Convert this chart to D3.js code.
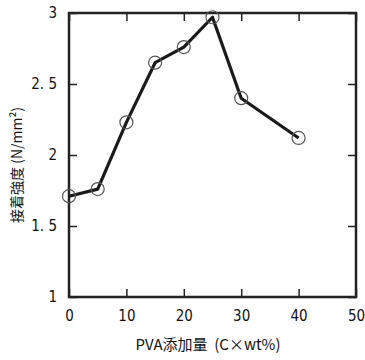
<!DOCTYPE html>
<html>
<head>
<meta charset="utf-8">
<script src="https://cdn.jsdelivr.net/npm/d3@7"></script>
<style>
  body { margin: 0; background: #fff; }
  text { font-family: "DejaVu Sans Condensed", "Liberation Sans Narrow", "Noto Sans CJK JP", sans-serif; }
</style>
</head>
<body>
<div id="chart-area"></div>
<script>
// PVA addition (C x wt%) vs bond strength (N/mm2)
var pvaAmount = [0, 5, 10, 15, 20, 25, 30, 40];
var bondStrength = [1.71, 1.76, 2.23, 2.65, 2.76, 2.97, 2.40, 2.12];
var xTicks = [0, 10, 20, 30, 40, 50];
var yTicks = [1, 1.5, 2, 2.5, 3];

var margin = { left: 69, right: 9, top: 13, bottom: 63 };
var width = 365 - margin.left - margin.right,
    height = 360 - margin.top - margin.bottom;

var svg = d3.select("#chart-area")
  .append("svg")
    .attr("width", 365)
    .attr("height", 360);

var g = svg.append("g")
  .attr("transform", "translate(" + margin.left + ", " + margin.top + ")");

var x = d3.scaleLinear().domain([0, 50]).range([0, width]);
var y = d3.scaleLinear().domain([1, 3]).range([height, 0]);

var fmt = function(d) { return String(d).replace(".", ". "); };

// bottom axis, ticks pointing inward
var xAxis = g.append("g")
  .attr("transform", "translate(0, " + height + ")")
  .call(d3.axisBottom(x).tickValues(xTicks).tickSizeInner(-8).tickSizeOuter(0).tickPadding(13));
// top axis mirrored
var xTop = g.append("g")
  .call(d3.axisTop(x).tickValues(xTicks).tickSizeInner(-8).tickSizeOuter(0).tickFormat(""));
var yAxis = g.append("g")
  .call(d3.axisLeft(y).tickValues(yTicks).tickSizeInner(-8).tickSizeOuter(0).tickPadding(12).tickFormat(fmt));
var yRight = g.append("g")
  .attr("transform", "translate(" + width + ", 0)")
  .call(d3.axisRight(y).tickValues(yTicks).tickSizeInner(-8).tickSizeOuter(0).tickFormat(""));

[xAxis, xTop, yAxis, yRight].forEach(function(a) {
  a.select(".domain").remove();
  a.selectAll(".tick line").attr("stroke", "#222").attr("stroke-width", 1.5);
  a.selectAll("text").attr("font-size", "15px").attr("fill", "#111")
    .style("font-family", "'DejaVu Sans Condensed', 'Liberation Sans Narrow', sans-serif");
});
yAxis.selectAll("text").attr("xml:space", "preserve").text(function(d) { return fmt(d).replace(" ", "\u00a0"); });

// frame
g.append("rect")
  .attr("x", 0).attr("y", 0)
  .attr("width", width).attr("height", height)
  .attr("fill", "none")
  .attr("stroke", "#222")
  .attr("stroke-width", 2.5);

var points = pvaAmount.map(function(d, i) { return { x: d, y: bondStrength[i] }; });

var line = d3.line()
  .x(function(d) { return x(d.x); })
  .y(function(d) { return y(d.y); });

g.append("path")
  .datum(points)
  .attr("d", line)
  .attr("fill", "none")
  .attr("stroke", "#1a1a1a")
  .attr("stroke-width", 3.2)
  .attr("stroke-linejoin", "round");

g.selectAll("circle")
  .data(points)
  .enter()
  .append("circle")
    .attr("cx", function(d) { return x(d.x); })
    .attr("cy", function(d) { return y(d.y); })
    .attr("r", 6.5)
    .attr("fill", "none")
    .attr("stroke", "#555")
    .attr("stroke-width", 1.2);

// X label
g.append("text")
  .attr("x", 139)
  .attr("y", height + 53)
  .attr("text-anchor", "middle")
  .attr("font-size", "15px")
  .attr("fill", "#111")
  .style("font-family", "'Noto Sans CJK JP', sans-serif")
  .text("PVA添加量\u00a0\u00a0(C×wt%)");

// Y label
svg.append("text")
  .attr("transform", "translate(22, 165) rotate(-90)")
  .attr("text-anchor", "middle")
  .attr("font-size", "14px")
  .attr("fill", "#111")
  .style("font-family", "'Noto Sans CJK JP', sans-serif")
  .text("接着強度 (N/mm²)");
</script>
</body>
</html>
